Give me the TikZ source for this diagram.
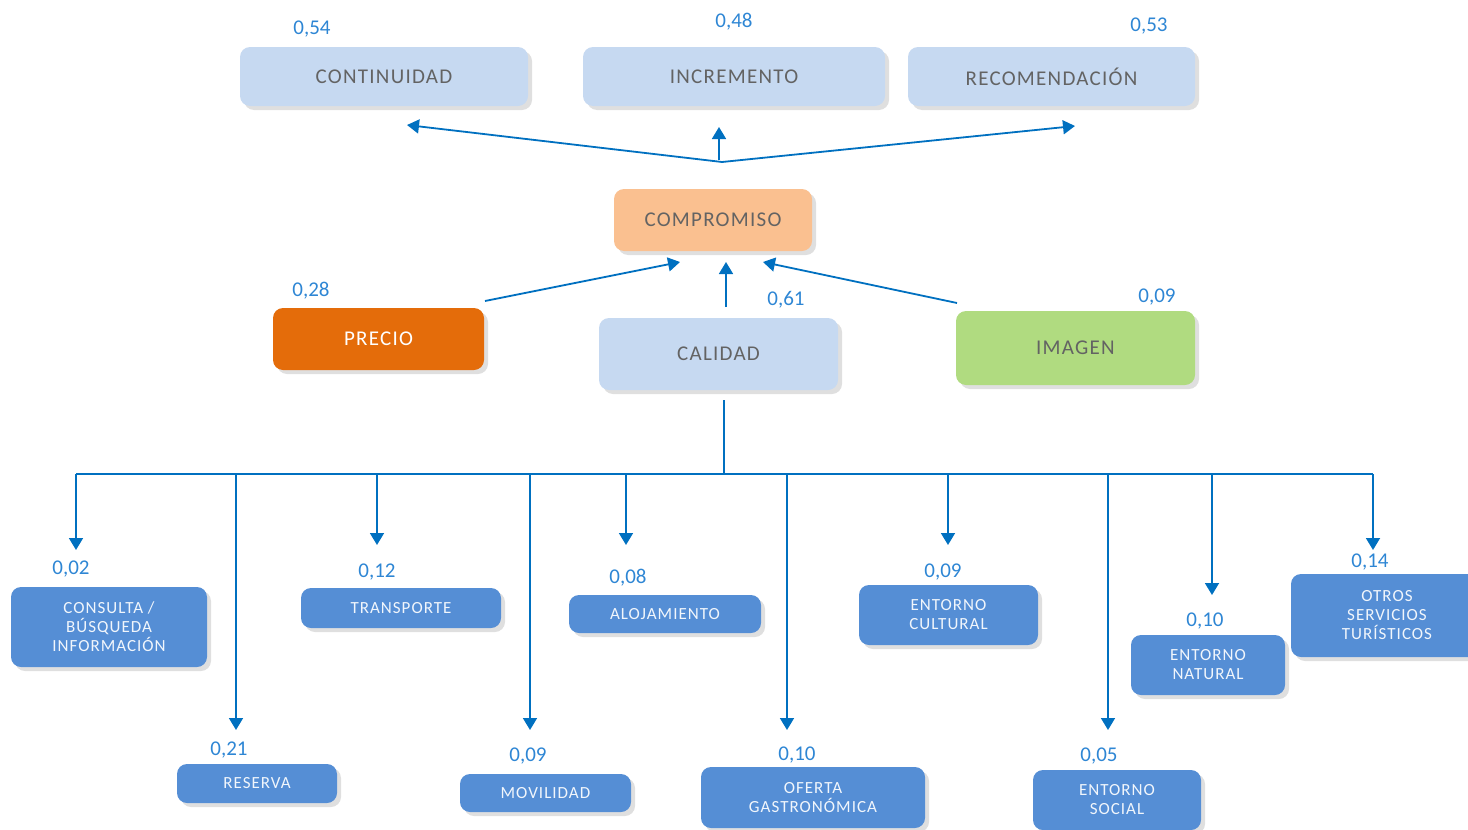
\documentclass[tikz,border=0pt]{standalone}
\usepackage{fontspec}
\setmainfont{Carlito}
\newfontfamily\spaced[LetterSpace=6]{Carlito}
\usetikzlibrary{arrows.meta,shadows}

\definecolor{lineblue}{HTML}{0070C0}
\definecolor{numblue}{HTML}{2E86D4}
\definecolor{paleblue}{HTML}{C6D9F1}
\definecolor{midblue}{HTML}{558ED5}
\definecolor{peach}{HTML}{FAC090}
\definecolor{burnt}{HTML}{E46C0A}
\definecolor{leaf}{HTML}{B0DB80}
\definecolor{inkgray}{HTML}{636363}

\tikzset{
  box/.style={rounded corners=10pt, inner sep=0pt, align=center,
    drop shadow={opacity=.25, shadow xshift=4pt, shadow yshift=-4pt}},
  topbox/.style={box, fill=paleblue, text=inkgray, font=\spaced\fontsize{21}{24}\selectfont},
  subbox/.style={box, fill=midblue, text=white!92!midblue, font=\spaced\fontsize{17}{19}\selectfont},
  weight/.style={text=numblue, font=\fontsize{21}{24}\selectfont},
  link/.style={draw=lineblue, line width=1.8pt},
  arr/.style={link, -{Triangle[length=12pt,width=14pt]}},
}

\begin{document}
\begin{tikzpicture}[x=1pt, y=-1pt]
  \useasboundingbox (0,0) rectangle (1468,830);

  % results
  \node[topbox, minimum width=288pt, minimum height=59pt] (cont) at (384,76.5) {CONTINUIDAD};
  \node[topbox, minimum width=302pt, minimum height=59pt] (incr) at (734,76.5) {INCREMENTO};
  \node[topbox, minimum width=287pt, minimum height=59pt] (reco) at (1051.5,76.5) {RECOMENDACIÓN};
  \node[weight] (w54) at (312,29) {0,54};
  \node[weight] (w48) at (734,22) {0,48};
  \node[weight] (w53) at (1149,26) {0,53};

  \node[topbox, fill=peach, minimum width=198pt, minimum height=62pt] (comp) at (713,220) {COMPROMISO};

  \coordinate (jct) at (722,162);
  \coordinate (jctup) at (719,160);
  \coordinate (tocont) at (407,125);
  \coordinate (toincr) at (719,127);
  \coordinate (toreco) at (1075,126);
  \draw[arr] (jct) -- (tocont);
  \draw[arr] (jctup) -- (toincr);
  \draw[arr] (jct) -- (toreco);

  % drivers
  \node[topbox, fill=burnt, text=white, minimum width=211pt, minimum height=62pt] (prec) at (378.5,339) {PRECIO};
  \node[topbox, minimum width=239pt, minimum height=72pt] (cali) at (718.5,354) {CALIDAD};
  \node[topbox, fill=leaf, minimum width=239pt, minimum height=74pt] (imag) at (1075.5,348) {IMAGEN};
  \node[weight] (w28) at (311,291) {0,28};
  \node[weight] (w61) at (786,300) {0,61};
  \node[weight] (w09) at (1157,297) {0,09};

  \coordinate (fromprec) at (485,301);
  \coordinate (fromcali) at (726,307);
  \coordinate (fromimag) at (957,303);
  \draw[arr] (fromprec) -- (680,262);
  \draw[arr] (fromcali) -- (726,262);
  \draw[arr] (fromimag) -- (763,262);

  % quality components
  \coordinate (stem) at (724,400);
  \coordinate (bus) at (724,474);
  \draw[link] (stem) -- (bus);
  \draw[link] (76,474) -- (1373,474);

  \foreach \x/\yt/\lx/\ly/\v [count=\i] in {
      76/550/71/569/{0,02}, 236/730/229/750/{0,21}, 377/545/377/572/{0,12},
      530/730/528/756/{0,09}, 626/545/628/578/{0,08}, 787/730/797/755/{0,10},
      948/545/943/572/{0,09}, 1108/730/1099/756/{0,05}, 1212/595/1205/621/{0,10},
      1373/550/1370/562/{0,14}} {
    \node[weight] (w\i) at (\lx,\ly) {\v};
    \coordinate (top\i) at (\x,474);
    \coordinate (tip\i) at (\x,\yt);
    \draw[arr] (top\i) -- (tip\i);
  }

  \node[subbox, minimum width=196pt, minimum height=80pt] (cons) at (109,627) {CONSULTA /\\BÚSQUEDA\\INFORMACIÓN};
  \node[subbox, minimum width=160pt, minimum height=39pt] (rese) at (257,783.5) {RESERVA};
  \node[subbox, minimum width=200pt, minimum height=40pt] (tran) at (401,608) {TRANSPORTE};
  \node[subbox, minimum width=171pt, minimum height=38pt] (movi) at (545.5,793) {MOVILIDAD};
  \node[subbox, minimum width=192pt, minimum height=38pt] (aloj) at (665,614) {ALOJAMIENTO};
  \node[subbox, minimum width=224pt, minimum height=61pt] (ofer) at (813,797.5) {OFERTA\\GASTRONÓMICA};
  \node[subbox, minimum width=179pt, minimum height=60pt] (cult) at (948.5,615) {ENTORNO\\CULTURAL};
  \node[subbox, minimum width=168pt, minimum height=60pt] (soci) at (1117,800) {ENTORNO\\SOCIAL};
  \node[subbox, minimum width=154pt, minimum height=60pt] (natu) at (1208,665) {ENTORNO\\NATURAL};
  \node[subbox, minimum width=192pt, minimum height=83pt] (otro) at (1387,615.5) {OTROS\\SERVICIOS\\TURÍSTICOS};
\end{tikzpicture}
\end{document}
